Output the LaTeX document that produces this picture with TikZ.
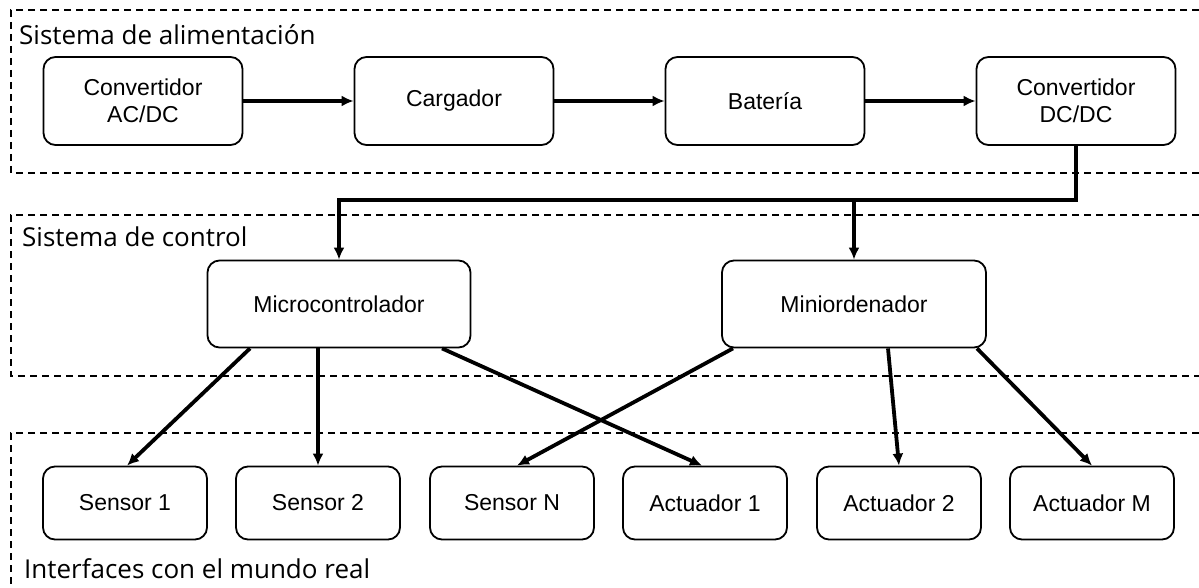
\documentclass[tikz,border=0pt]{standalone}
\usepackage{fontspec}
\setmainfont{Liberation Sans}
\newfontfamily\grupofont{Open Sans}
\usetikzlibrary{arrows.meta}
\tikzset{
	bloque/.style={draw,line width=1.8pt,rounded corners=12pt,align=center,
		inner sep=0pt,font=\fontsize{23}{27}\selectfont},
	grupo/.style={dashed,line width=1.6pt,dash pattern=on 7pt off 5pt},
	titulo/.style={anchor=base west,inner sep=0pt,font=\grupofont\fontsize{26}{30}\selectfont},
	flecha/.style={->,line width=3.8pt}
}
\begin{document}
\begin{tikzpicture}[x=1pt,y=-1pt,>={Latex[length=12pt,width=11pt]}]
	\useasboundingbox (0,0) rectangle (1199,588);
	% zonas
	\draw[grupo] (1199,10) -| (11,173) -- (1199,173);
	\draw[grupo] (1199,215) -| (11,376) -- (1199,376);
	\draw[grupo] (1199,433) -| (11,588);
	\node[titulo] (talim) at (19,45) {Sistema de alimentación};
	\node[titulo] (tcont) at (22,246) {Sistema de control};
	\node[titulo] (tinte) at (24,578) {Interfaces con el mundo real};
	% alimentacion
	\node[bloque,minimum width=199pt,minimum height=88pt] (acdc) at (143,101) {Convertidor\\AC/DC};
	\node[bloque,minimum width=199pt,minimum height=88pt] (carg) at (454,101) {Cargador};
	\node[bloque,minimum width=199pt,minimum height=88pt] (bat) at (765,101) {Batería};
	\node[bloque,minimum width=199pt,minimum height=88pt] (dcdc) at (1076,101) {Convertidor\\DC/DC};
	\draw[flecha] (acdc) -- (carg);
	\draw[flecha] (carg) -- (bat);
	\draw[flecha] (bat) -- (dcdc);
	% control
	\node[bloque,minimum width=263pt,minimum height=87pt] (micro) at (339,304) {Microcontrolador};
	\node[bloque,minimum width=264pt,minimum height=87pt] (mini) at (854,304) {Miniordenador};
	\coordinate (bus) at (854,200);
	\draw[flecha] (dcdc.south) |- (bus) -| (micro.north);
	\draw[flecha] (bus) -- (mini.north);
	% interfaces
	\node[bloque,minimum width=164pt,minimum height=73pt] (s1) at (125,503) {Sensor 1};
	\node[bloque,minimum width=164pt,minimum height=73pt] (s2) at (318,503) {Sensor 2};
	\node[bloque,minimum width=164pt,minimum height=73pt] (sn) at (512,503) {Sensor N};
	\node[bloque,minimum width=164pt,minimum height=73pt] (a1) at (705,503) {Actuador 1};
	\node[bloque,minimum width=164pt,minimum height=73pt] (a2) at (899,503) {Actuador 2};
	\node[bloque,minimum width=164pt,minimum height=73pt] (am) at (1092,503) {Actuador M};
	\draw[flecha] ([xshift=-89pt]micro.south) -- ([xshift=2pt]s1.north);
	\draw[flecha] ([xshift=-21pt]micro.south) -- (s2.north);
	\draw[flecha] ([xshift=103pt]micro.south) -- ([xshift=-3pt]a1.north);
	\draw[flecha] ([xshift=-121pt]mini.south) -- ([xshift=5pt]sn.north);
	\draw[flecha] ([xshift=34pt]mini.south) -- (a2.north);
	\draw[flecha] ([xshift=123pt]mini.south) -- (am.north);
\end{tikzpicture}
\end{document}
